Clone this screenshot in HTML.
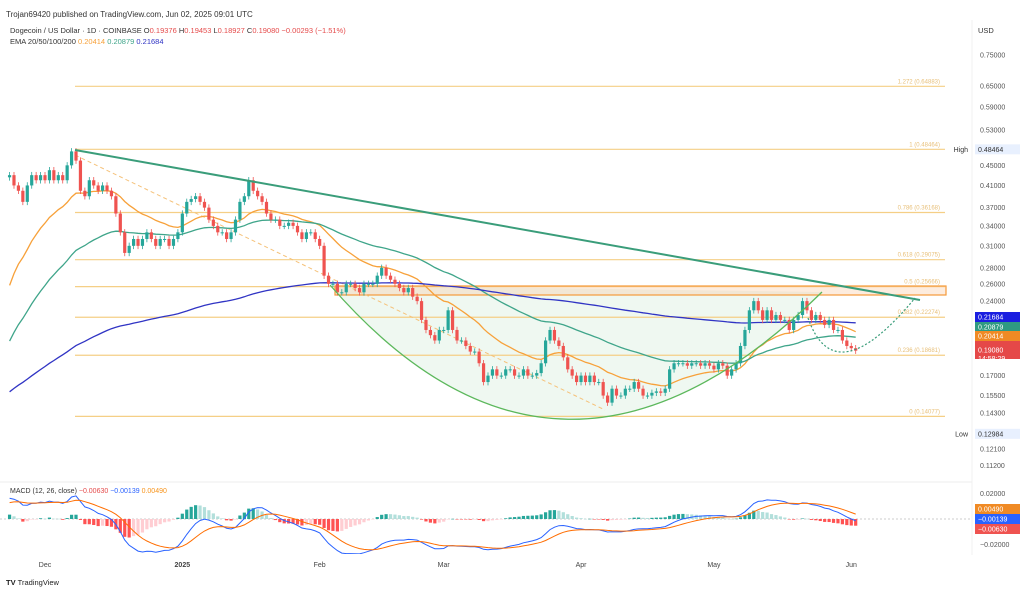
<!DOCTYPE html>
<html><head><meta charset="utf-8"><style>
body{margin:0;background:#fff;font-family:"Liberation Sans",sans-serif;}
#wrap{position:relative;width:1024px;height:590px;overflow:hidden;background:#fff}
svg text{font-family:"Liberation Sans",sans-serif}
</style></head><body>
<div id="wrap">
<svg id="c" width="1024" height="590" viewBox="0 0 1024 590">
<text x="6" y="17" font-size="8" fill="#333">Trojan69420 published on TradingView.com, Jun 02, 2025 09:01 UTC</text>
<text x="10" y="33" font-size="7.5" fill="#333">Dogecoin / US Dollar · 1D · COINBASE  <tspan fill="#333">O</tspan><tspan fill="#e54b4b">0.19376</tspan> <tspan fill="#333">H</tspan><tspan fill="#e54b4b">0.19453</tspan> <tspan fill="#333">L</tspan><tspan fill="#e54b4b">0.18927</tspan> <tspan fill="#333">C</tspan><tspan fill="#e54b4b">0.19080  −0.00293 (−1.51%)</tspan></text>
<text x="10" y="44" font-size="7.5" fill="#333">EMA 20/50/100/200 <tspan fill="#f7a13a">0.20414</tspan> <tspan fill="#3fa58a">0.20879</tspan> <tspan fill="#3034c4">0.21684</tspan></text>
<text x="978" y="33" font-size="7.5" fill="#333">USD</text>
<line x1="0" y1="482" x2="972" y2="482" stroke="#eee"/>
<line x1="972" y1="20" x2="972" y2="555" stroke="#f0f0f0"/>
<text x="10" y="493" font-size="7" fill="#333">MACD (12, 26, close) <tspan fill="#e54b4b">−0.00630</tspan> <tspan fill="#2962ff">−0.00139</tspan> <tspan fill="#f7931a">0.00490</tspan></text>
<text x="6" y="585" font-size="7.5" fill="#222" font-weight="bold">TV <tspan font-weight="normal">TradingView</tspan></text>
<g id="main"></g>
<g id="macd"></g>
<g id="axes"></g>
</svg></div>
<script>
const closes=[0.43,0.41,0.40,0.38,0.41,0.43,0.42,0.43,
0.42,0.44,0.42,0.43,0.42,0.45,0.48,
0.46,0.40,0.39,0.42,0.41,0.40,0.41,
0.40,0.39,0.36,0.33,0.30,0.31,0.32,
0.31,0.32,0.33,0.32,0.31,0.32,0.32,
0.31,0.32,0.33,0.36,0.38,0.385,0.39,
0.38,0.37,0.35,0.34,0.33,0.33,0.32,
0.33,0.35,0.38,0.39,0.42,0.40,0.39,
0.38,0.36,0.35,0.35,0.34,0.34,0.345,
0.34,0.33,0.32,0.33,0.33,0.32,0.31,
0.27,0.26,0.26,0.25,0.25,0.26,0.26,
0.255,0.25,0.26,0.26,0.26,0.27,0.28,
0.27,0.265,0.26,0.255,0.25,0.255,0.245,
0.24,0.22,0.21,0.205,0.20,0.21,0.21,
0.23,0.21,0.20,0.20,0.195,0.19,0.19,
0.18,0.165,0.17,0.175,0.17,0.17,0.175,
0.175,0.17,0.17,0.175,0.17,0.17,0.172,
0.18,0.20,0.21,0.20,0.195,0.185,0.175,
0.17,0.165,0.17,0.165,0.17,0.165,0.165,
0.155,0.15,0.16,0.155,0.155,0.16,0.16,
0.165,0.16,0.155,0.155,0.157,0.158,0.157,
0.16,0.175,0.18,0.18,0.18,0.178,0.18,
0.18,0.178,0.18,0.178,0.175,0.18,0.178,
0.17,0.175,0.18,0.195,0.21,0.23,0.24,
0.23,0.22,0.23,0.22,0.225,0.22,0.22,
0.21,0.22,0.225,0.24,0.23,0.22,0.225,
0.22,0.215,0.22,0.21,0.21,0.20,0.195,
0.193,0.1908];
const firstDay=-8;
const emaSeeds=[0.24,0.19,0.155];
const emaPeriods=[20,50,200];
const emaColors=['#f7a13a','#3fa58a','#3034c4'];
const priceTicks=[0.75,0.65,0.59,0.53,0.45,0.41,0.37,0.34,0.31,0.28,0.26,0.24,0.17,0.155,0.143,0.121,0.112];
const monthLabels=['Dec','2025','Feb','Mar','Apr','May','Jun'];
const monthDays=[0,31,62,90,121,151,182];
const fibLevels=[1.272,1,0.786,0.618,0.5,0.382,0.236,0];
const fibPrices=[0.64883,0.48464,0.36168,0.29075,0.25666,0.22274,0.18681,0.14077];
const macdTicks=[0.02,-0.02];

const NS='http://www.w3.org/2000/svg';
const X=d=>45+d*4.43;
const Y=p=>55+(Math.log(0.75)-Math.log(p))*216;
const MY=v=>519-v*1275;
function mk(tag,attrs,parent){const e=document.createElementNS(NS,tag);for(const k in attrs)e.setAttribute(k,attrs[k]);parent.appendChild(e);return e;}
const main=document.getElementById('main'),macd=document.getElementById('macd'),axes=document.getElementById('axes');

const defs=mk('defs',{},document.getElementById('c'));
const cp=mk('clipPath',{id:'cm'},defs);mk('rect',{x:0,y:20,width:972,height:460},cp);
const cp2=mk('clipPath',{id:'cmacd'},defs);mk('rect',{x:0,y:484,width:972,height:70},cp2);
main.setAttribute('clip-path','url(#cm)');macd.setAttribute('clip-path','url(#cmacd)');

const cup=mk('path',{d:`M330,285 Q560,550 822,292 Z`,fill:'rgba(120,200,140,0.12)',stroke:'none'},main);


fibLevels.forEach((f,i)=>{const y=Y(fibPrices[i]);
const l=mk('line',{x1:75,y1:y,x2:945,y2:y,stroke:'#f5cf86','stroke-width':1.2},main);

const t=mk('text',{x:940,y:y-3,'font-size':6,fill:'#e8c07a','text-anchor':'end'},main);t.textContent=f+' ('+fibPrices[i]+')';
});

const box=mk('rect',{x:335,y:286,width:611,height:9,fill:'rgba(250,200,160,0.35)',stroke:'#f59a3a','stroke-width':1.2},main);


const dd=mk('line',{x1:75,y1:155,x2:605,y2:410,stroke:'#f5c27a','stroke-width':1,'stroke-dasharray':'4,3'},main);


emaPeriods.forEach((p,k)=>{let e=emaSeeds[k];const a=2/(p+1);let pts=[];
closes.forEach((c,i)=>{e=e+a*(c-e);pts.push(X(firstDay+i).toFixed(1)+','+Y(e).toFixed(1));});
const pl=mk('polyline',{points:pts.join(' '),fill:'none',stroke:emaColors[k],'stroke-width':1.3},main);
});

closes.forEach((c,i)=>{const o=i?closes[i-1]:c*0.99;const hi=Math.max(o,c)*1.015,lo=Math.min(o,c)*0.985;
const x=X(firstDay+i);const col=c>=o?'#26a69a':'#ef5350';
const w=mk('line',{x1:x,y1:Y(hi),x2:x,y2:Y(lo),stroke:col,'stroke-width':0.8},main);

const yt=Y(Math.max(o,c)),yb=Y(Math.min(o,c));
const b=mk('rect',{x:x-1.6,y:yt,width:3.2,height:Math.max(1,yb-yt),fill:col},main);
});

const tl=mk('line',{x1:75,y1:150,x2:920,y2:300,stroke:'#3a9d7a','stroke-width':2},main);

const arc=mk('path',{d:'M330,285 Q560,550 822,292',fill:'none',stroke:'#5cb85c','stroke-width':1.3},main);

const arc2=mk('path',{d:'M808,318 Q835,395 915,298',fill:'none',stroke:'#3a9d7a','stroke-width':1.2,'stroke-dasharray':'2,2'},main);


priceTicks.forEach(p=>{const t=mk('text',{x:980,y:Y(p)+2.5,'font-size':7,fill:'#555'},axes);t.textContent=p.toFixed(5);
});
function tag(y,txt,bg,fg,name,h){const r=mk('rect',{x:975,y:y-(h||10)/2,width:45,height:h||10,fill:bg},axes);

const t=mk('text',{x:978,y:y+2.5,'font-size':7,fill:fg},axes);t.textContent=txt;
return t;}
tag(Y(0.48464),'0.48464','#e8f0fe','#333','high-price-tag');
tag(Y(0.12984),'0.12984','#e8f0fe','#333','low-price-tag');
const hl=mk('text',{x:968,y:Y(0.48464)+2.5,'font-size':7,fill:'#333','text-anchor':'end'},axes);hl.textContent='High';

const ll=mk('text',{x:968,y:Y(0.12984)+2.5,'font-size':7,fill:'#333','text-anchor':'end'},axes);ll.textContent='Low';

tag(317,'0.21684','#1a1ee0','#fff','ema200-price-tag');
tag(327,'0.20879','#2f9a82','#fff','ema50-price-tag');
tag(336,'0.20414','#f08a24','#fff','ema20-price-tag');
tag(350,'0.19080','#e54848','#fff','last-price-tag',18);
const cd=mk('text',{x:978,y:361,'font-size':7,fill:'#fff'},axes);cd.textContent='14:58:29';


monthLabels.forEach((m,i)=>{const t=mk('text',{x:X(monthDays[i]),y:567,'font-size':7,fill:'#444','text-anchor':'middle','font-weight':m==='2025'?'bold':'normal'},axes);t.textContent=m;
});

let e12=0.40,e26=0.385,sig=0.012;const hist=[],ml=[],sl=[];
closes.forEach(c=>{e12+= (2/13)*(c-e12);e26+=(2/27)*(c-e26);const m=e12-e26;sig+=(2/10)*(m-sig);ml.push(m);sl.push(sig);hist.push(m-sig);});
const zl=mk('line',{x1:0,y1:MY(0),x2:972,y2:MY(0),stroke:'#ccc','stroke-dasharray':'2,2'},macd);

hist.forEach((h,i)=>{const prev=i?hist[i-1]:h;let col=h>=0?(h>=prev?'#26a69a':'#b2dfdb'):(h<prev?'#ff5252':'#ffcdd2');
const x=X(firstDay+i);const y0=MY(0),y1=MY(h);
const r=mk('rect',{x:x-1.6,y:Math.min(y0,y1),width:3.2,height:Math.max(0.5,Math.abs(y1-y0)),fill:col},macd);
});
const mp=mk('polyline',{points:ml.map((v,i)=>X(firstDay+i).toFixed(1)+','+MY(v).toFixed(1)).join(' '),fill:'none',stroke:'#2962ff','stroke-width':1},macd);

const sp=mk('polyline',{points:sl.map((v,i)=>X(firstDay+i).toFixed(1)+','+MY(v).toFixed(1)).join(' '),fill:'none',stroke:'#ff6d00','stroke-width':1},macd);

macdTicks.forEach(v=>{const t=mk('text',{x:980,y:MY(v)+2.5,'font-size':7,fill:'#555'},axes);t.textContent=(v<0?'−':'')+Math.abs(v).toFixed(5);
});
tag(509,'0.00490','#f08a24','#fff','macd-signal-tag');
tag(519,'−0.00139','#2962ff','#fff','macd-line-tag');
tag(529,'−0.00630','#ef5350','#fff','macd-hist-tag');
</script>
</body></html>
